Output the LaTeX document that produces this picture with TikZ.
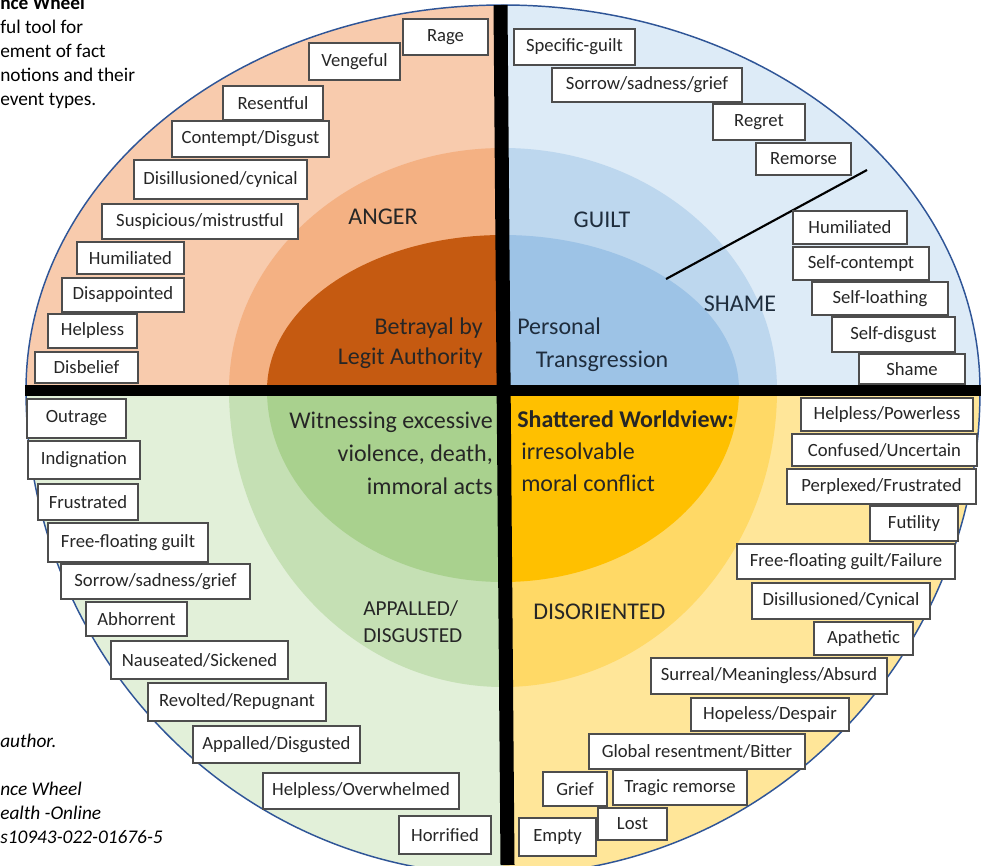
\documentclass[tikz,border=0pt]{standalone}
\usepackage{fontspec}
\setmainfont{Carlito}
\usepackage{tikz}
\definecolor{anger1}{HTML}{F8CBAD}
\definecolor{anger2}{HTML}{F4B183}
\definecolor{anger3}{HTML}{C55A11}
\definecolor{guilt1}{HTML}{DDEBF7}
\definecolor{guilt2}{HTML}{BDD7EE}
\definecolor{guilt3}{HTML}{9DC3E6}
\definecolor{appal1}{HTML}{E2F0D9}
\definecolor{appal2}{HTML}{C5E0B4}
\definecolor{appal3}{HTML}{A9D18E}
\definecolor{disor1}{HTML}{FFE699}
\definecolor{disor2}{HTML}{FFD966}
\definecolor{disor3}{HTML}{FFC000}
\definecolor{rim}{HTML}{2F5597}
\definecolor{boxline}{HTML}{4D4D4D}
\definecolor{boxtext}{HTML}{262626}
\definecolor{guiltink}{HTML}{1F2D3D}

\begin{document}
\begin{tikzpicture}
  [x=0.75pt,y=-0.75pt,every node/.style={inner sep=0pt},
   emo/.style 2 args={draw=boxline,fill=white,line width=0.9pt,text=boxtext,
     font=\fontsize{14}{16}\selectfont,minimum width=#1*0.75pt,minimum height=#2*0.75pt},
   ring/.style={font=\fontsize{18}{22}\selectfont,text=black!85},
   core/.style={font=\fontsize{18}{24.75}\selectfont,text=black!85}]

  \useasboundingbox (0,0) rectangle (992,865);
  \clip (0,0) rectangle (992,865);
  \fill[white] (0,0) rectangle (992,865);

  % the four quarters of the wheel
  \foreach \xa/\ya/\xb/\yb/\ro/\rm/\ri/\hue in
    {0/0/503/390/385/242/155/anger,503/0/992/390/385/242/155/guilt,
     0/390/503/865/485/297/192/appal,503/390/992/865/485/297/192/disor}
  {
    \begin{scope}
      \clip (\xa,\ya) rectangle (\xb,\yb);
      \filldraw[fill=\hue1,draw=rim,line width=1.1pt] (503,390) ellipse [x radius=477,y radius=\ro];
      \fill[fill=\hue2] (503,390) ellipse [x radius=274,y radius=\rm];
      \fill[fill=\hue3] (503,390) ellipse [x radius=236,y radius=\ri];
    \end{scope}
  }
  \draw[line width=10.5pt] (500.5,5) -- (507.5,865);
  \draw[line width=8.25pt] (25,390) -- (981,390);

  \coordinate (cut1) at (666,279);
  \coordinate (cut2) at (867,170);
  \draw[line width=1.6pt] (cut1) -- (cut2);

  \node[anchor=north west,align=left,font=\fontsize{14.5}{18}\selectfont] (title) at (0,-4)
    {\textbf{nce Wheel}\\ful tool for\\ement of fact\\notions and their\\event types.};
  \node[anchor=north west,align=left,font=\itshape\fontsize{14.5}{18}\selectfont] (source) at (0,734)
    {author.\\[18pt]nce Wheel\\ealth -Online\\s10943-022-01676-5};

  % ring and core labels
  \node[ring] (anger) at (383,217) {ANGER};
  \node[ring,text=guiltink] (guilt) at (602,220) {GUILT};
  \node[ring,text=guiltink] (shamelbl) at (740,304) {SHAME};
  \node[ring,font=\fontsize{16}{20.25}\selectfont,align=left,anchor=west] (appallbl) at (363,621.5) {APPALLED/\\DISGUSTED};
  \node[ring,anchor=west] (disorient) at (533,612) {DISORIENTED};
  \node[core,align=right,anchor=east,font=\fontsize{18}{22.5}\selectfont] (betrayal) at (483,343) {Betrayal by\\Legit Authority};
  \node[core,align=left,anchor=west,text=guiltink] (transgr) at (517,344.5) {Personal\\\hspace*{14pt}Transgression};
  \node[core,align=right,anchor=east] (witness) at (493,453) {Witnessing excessive\\violence, death,\\immoral acts};
  \node[core,align=left,anchor=west,font=\fontsize{18}{24}\selectfont] (shattered) at (517,451)
    {\textbf{Shattered Worldview:}\\\hspace*{3pt}irresolvable\\\hspace*{3pt}moral conflict};

  % anger
  \node[emo={85}{36}] (rage) at (445.5,37) {Rage};
  \node[emo={91}{37}] (vengeful) at (354.5,61.5) {Vengeful};
  \node[emo={100}{34}] (resentful) at (273,103) {Resentful};
  \node[emo={157}{36}] (contempt) at (250.5,139) {Contempt/Disgust};
  \node[emo={173}{39}] (cynical) at (220.5,179.5) {Disillusioned/cynical};
  \node[emo={196}{35}] (suspicious) at (200,221.5) {Suspicious/mistrustful};
  \node[emo={107}{32}] (humiliated) at (130.5,258) {Humiliated};
  \node[emo={122}{34}] (disappointed) at (123,295) {Disappointed};
  \node[emo={89}{34}] (helpless) at (92.5,331) {Helpless};
  \node[emo={103}{31}] (disbelief) at (86.5,367.5) {Disbelief};

  % guilt and shame
  \node[emo={121}{36}] (specific) at (574.5,47) {Specific-guilt};
  \node[emo={190}{34}] (sorrow) at (647,85) {Sorrow/sadness/grief};
  \node[emo={92}{36}] (regret) at (759,122) {Regret};
  \node[emo={95}{32}] (remorse) at (803.5,159) {Remorse};
  \node[emo={114}{33}] (humiliatedb) at (850,227.5) {Humiliated};
  \node[emo={136}{33}] (selfcontempt) at (861,263.5) {Self-contempt};
  \node[emo={136}{33}] (selfloathing) at (880,298.5) {Self-loathing};
  \node[emo={123}{35}] (selfdisgust) at (893.5,334.5) {Self-disgust};
  \node[emo={106}{30}] (shame) at (912,369) {Shame};

  % appalled
  \node[emo={99}{39}] (outrage) at (76.5,418.5) {Outrage};
  \node[emo={112}{38}] (indignation) at (84,460) {Indignation};
  \node[emo={100}{36}] (frustrated) at (88,502) {Frustrated};
  \node[emo={160}{39}] (freeguilt) at (128,542.5) {Free-floating guilt};
  \node[emo={189}{35}] (sorrowb) at (155.5,581.5) {Sorrow/sadness/grief};
  \node[emo={101}{34}] (abhorrent) at (136.5,619) {Abhorrent};
  \node[emo={177}{38}] (nauseated) at (199.5,660) {Nauseated/Sickened};
  \node[emo={178}{38}] (revolted) at (237,702) {Revolted/Repugnant};
  \node[emo={167}{37}] (appalled) at (276.5,744.5) {Appalled/Disgusted};
  \node[emo={196}{36}] (overwhelmed) at (361,791) {Helpless/Overwhelmed};
  \node[emo={92}{38}] (horrified) at (445,835) {Horrified};

  % disoriented
  \node[emo={172}{33}] (powerless) at (887,414.5) {Helpless/Powerless};
  \node[emo={185}{32}] (confused) at (884.5,450) {Confused/Uncertain};
  \node[emo={189}{35}] (perplexed) at (881.5,486.5) {Perplexed/Frustrated};
  \node[emo={88}{35}] (futility) at (914,523.5) {Futility};
  \node[emo={218}{35}] (failure) at (846,561.5) {Free-floating guilt/Failure};
  \node[emo={178}{36}] (cynicalb) at (841,601) {Disillusioned/Cynical};
  \node[emo={99}{33}] (apathetic) at (863.5,638.5) {Apathetic};
  \node[emo={236}{36}] (surreal) at (769,676) {Surreal/Meaningless/Absurd};
  \node[emo={158}{33}] (hopeless) at (770,714.5) {Hopeless/Despair};
  \node[emo={216}{35}] (bitter) at (697,751.5) {Global resentment/Bitter};
  \node[emo={64}{34}] (grief) at (575,789) {Grief};
  \node[emo={134}{35}] (tragic) at (680,787.5) {Tragic remorse};
  \node[emo={69}{32}] (lost) at (632.5,824) {Lost};
  \node[emo={77}{38}] (empty) at (557.5,837) {Empty};
\end{tikzpicture}
\end{document}
